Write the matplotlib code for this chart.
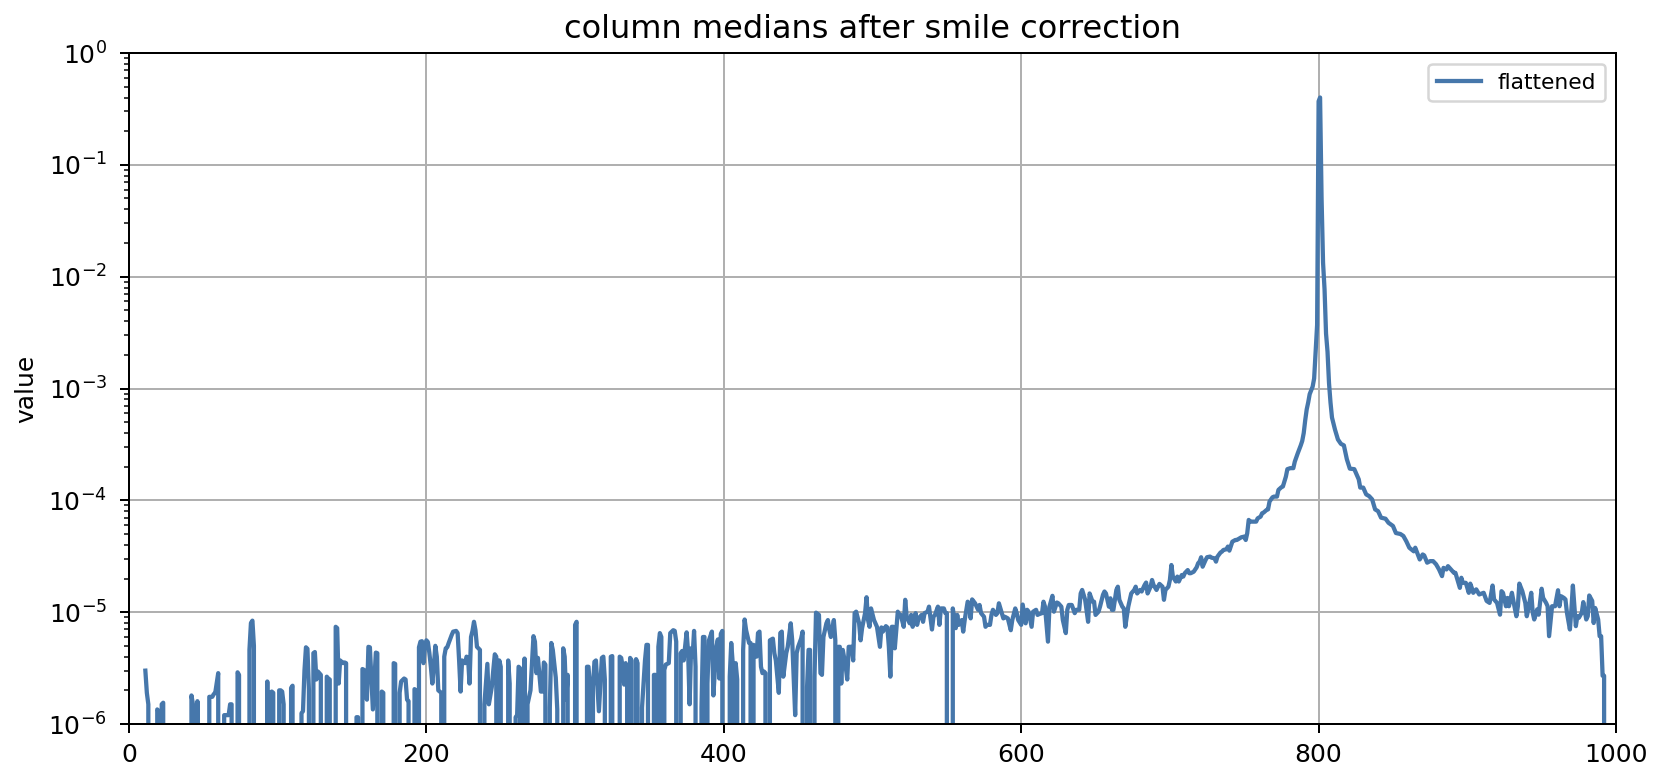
import numpy as np
import matplotlib
matplotlib.use("Agg")
import matplotlib.pyplot as plt

# Medianas por columna (0 = por debajo del eje)
cols_ruido = [11, 12, 13, 14, 19, 20, 21, 22, 23, 24, 41, 42, 43, 44, 45, 46, 47,
              53, 54, 56, 57, 58, 60, 61, 63, 64, 66, 67, 68, 69, 70, 72, 73, 74, 75,
              80, 81, 82, 83, 84, 85, 92, 93, 94, 95, 96, 97, 98, 100, 101, 102, 103,
              104, 105, 108, 109, 110, 111, 115, 116, 117, 118, 119, 120, 121, 122,
              124, 125, 126, 127, 129, 131, 133, 134, 135, 136, 138, 139, 140, 141,
              142, 144, 145, 146, 147, 152, 153, 154, 155, 157, 158, 160, 161, 162,
              164, 166, 167, 169, 170, 171, 172, 177, 178, 179, 180, 181, 182, 183,
              185, 186, 187, 188, 189, 191, 192, 193, 194, 195, 196, 197, 198, 199,
              200, 201, 202, 203, 204, 205, 206, 207, 208, 209, 210, 211, 212, 213,
              214, 215, 217, 218, 220, 221, 222, 223, 224, 226, 227, 228, 229, 230,
              231, 232, 233, 234, 235, 236, 238, 239, 241, 242, 244, 245, 246, 247,
              248, 249, 250, 251, 254, 255, 256, 257, 259, 260, 261, 262, 263, 264,
              266, 267, 268, 270, 272, 273, 274, 275, 277, 278, 279, 280, 281, 282,
              283, 284, 285, 287, 288, 289, 291, 292, 293, 294, 295, 296, 299, 300,
              301, 302, 307, 308, 309, 310, 311, 312, 313, 314, 315, 316, 318, 319,
              320, 321, 323, 324, 325, 326, 329, 330, 331, 332, 333, 334, 335, 336,
              337, 338, 339, 341, 342, 343, 345, 347, 348, 349, 350, 352, 353, 354,
              355, 356, 357, 358, 359, 360, 361, 363, 364, 366, 367, 368, 370, 371,
              372, 373, 375, 376, 377, 378, 379, 380, 381, 383, 385, 386, 387, 388,
              389, 390, 392, 393, 394, 395, 396, 397, 398, 399, 400, 403]
med_ruido = [3.0e-6, 1.9e-6, 1.5e-6, 0, 1.35e-6, 1.3e-6, 0, 1.5e-6, 1.55e-6, 0,
             0, 1.8e-6, 1.5e-6, 0, 0, 1.6e-6, 0,
             0, 1.75e-6, 1.75e-6, 1.85e-6, 1.9e-6, 2.85e-6, 0, 0, 1.2e-6, 1.2e-6,
             1.2e-6, 1.5e-6, 1.5e-6, 0, 0, 2.9e-6, 2.75e-6, 0,
             0, 4.6e-6, 8.0e-6, 8.4e-6, 5.0e-6, 0, 0, 2.4e-6, 0, 1.9e-6, 1.95e-6,
             1.9e-6, 0, 0, 2.0e-6, 2.0e-6, 1.95e-6,
             1.5e-6, 0, 0, 2.1e-6, 2.2e-6, 0, 0, 1.25e-6, 1.3e-6, 3.0e-6, 4.85e-6,
             4.7e-6, 2.0e-6, 0,
             4.3e-6, 4.4e-6, 2.5e-6, 2.95e-6, 2.75e-6, 0, 2.65e-6, 2.55e-6, 2.5e-6,
             0, 0, 7.4e-6, 7.2e-6, 2.3e-6,
             3.7e-6, 3.5e-6, 3.55e-6, 3.5e-6, 0, 0, 1.15e-6, 1.15e-6, 0, 3.1e-6,
             3.05e-6, 1.65e-6, 4.9e-6, 4.85e-6,
             1.35e-6, 4.35e-6, 4.3e-6, 0, 1.95e-6, 1.9e-6, 0, 0, 3.5e-6, 3.45e-6,
             0, 0, 1.9e-6, 2.4e-6,
             2.55e-6, 2.5e-6, 1.65e-6, 1.6e-6, 0, 0, 2.05e-6, 2.0e-6, 0, 4.85e-6,
             5.45e-6, 5.5e-6, 3.5e-6, 5.0e-6,
             5.6e-6, 5.4e-6, 4.3e-6, 3.25e-6, 2.3e-6, 3.3e-6, 5.0e-6, 4.0e-6,
             2.0e-6, 1.95e-6, 1.9e-6, 0, 4.0e-6, 4.75e-6,
             4.85e-6, 5.3e-6, 6.25e-6, 6.7e-6, 6.8e-6, 6.5e-6, 3.7e-6, 1.95e-6,
             3.7e-6, 3.5e-6, 4.0e-6, 3.9e-6, 2.3e-6, 6.0e-6,
             6.8e-6, 8.2e-6, 6.9e-6, 4.9e-6, 4.75e-6, 4.6e-6, 0, 1.5e-6, 3.45e-6,
             1.5e-6, 2.15e-6, 3.05e-6, 4.2e-6, 4.0e-6,
             0, 3.7e-6, 3.25e-6, 0, 0, 3.7e-6, 2.3e-6, 0, 0, 1.15e-6, 1.2e-6,
             3.25e-6, 3.15e-6, 0,
             3.85e-6, 0, 1.5e-6, 2.0e-6, 6.1e-6, 5.45e-6, 2.85e-6, 3.9e-6, 1.95e-6,
             1.95e-6, 3.55e-6, 3.4e-6, 0, 0,
             1.4e-6, 5.3e-6, 4.6e-6, 2.6e-6, 1.35e-6, 0, 0, 4.75e-6, 4.0e-6,
             1.65e-6, 2.75e-6, 0, 0, 7.7e-6,
             8.2e-6, 0, 0, 3.25e-6, 3.25e-6, 2.15e-6, 0, 2.15e-6, 3.6e-6, 3.7e-6,
             2.15e-6, 1.3e-6, 3.9e-6, 4.0e-6,
             2.5e-6, 0, 0, 4.0e-6, 4.05e-6, 0, 0, 4.0e-6, 3.9e-6, 3.25e-6, 2.25e-6,
             3.5e-6, 3.05e-6, 0,
             3.9e-6, 3.7e-6, 0, 3.8e-6, 3.5e-6, 0, 1.4e-6, 3.7e-6, 5.1e-6, 5.1e-6,
             0, 0, 2.75e-6, 2.75e-6,
             0, 4.9e-6, 6.5e-6, 6.0e-6, 0, 3.05e-6, 3.4e-6, 3.5e-6, 6.5e-6, 6.9e-6,
             6.8e-6, 5.45e-6, 0, 4.3e-6,
             4.5e-6, 3.7e-6, 6.6e-6, 4.4e-6, 1.5e-6, 4.75e-6, 4.0e-6, 6.8e-6,
             3.25e-6, 0, 1.4e-6, 6.0e-6, 6.0e-6, 0,
             2.3e-6, 5.6e-6, 6.7e-6, 1.8e-6, 3.05e-6, 4.9e-6, 5.7e-6, 2.55e-6,
             6.4e-6, 6.8e-6, 0, 0]

cols_medio = [404, 405, 406, 407, 408, 409, 410, 412, 413, 414, 415, 417, 418, 419,
              420, 422, 423, 424, 425, 426, 427, 428, 430, 431, 433, 434, 435, 437,
              438, 439, 440, 442, 443, 445, 446, 448, 449, 450, 452, 453, 454, 456,
              457, 458, 459, 461, 462, 464, 465, 466, 467, 469, 470, 471, 472, 474,
              475, 476, 477, 478, 479, 480, 482, 483, 484, 486, 487, 488, 489, 491,
              492, 493, 495, 496, 497, 498, 499, 501, 502, 503, 505, 506, 507, 509,
              510, 511, 512, 513, 514, 515, 517, 518, 519, 521, 522, 523, 525, 526,
              527, 529, 530, 531, 533, 534, 535, 537, 538, 540, 541, 542, 544, 545,
              546, 548, 549, 550, 552, 553, 554, 556, 557, 558, 560, 561, 562, 564,
              565, 566, 567, 569, 571, 572, 573, 575, 576, 577, 579, 580, 581, 583,
              584, 585, 587, 588, 589, 591, 593, 594, 596, 597, 598, 600, 601, 603,
              604, 605, 607, 608, 610, 611, 612, 614, 615, 616, 618, 619, 621, 622,
              624, 625, 627, 628, 630, 631, 632, 634, 636, 637, 639, 640, 641, 643,
              645, 646, 648, 649, 650, 652, 653, 655, 656, 657, 659, 660, 661, 662,
              664, 665, 666, 668, 669, 670, 672, 673, 674, 676, 677, 678, 680, 681,
              683, 684, 685, 687, 688, 689, 691, 692, 693, 695, 696, 697, 699, 700]
med_medio = [2.65e-6, 5.3e-6, 3.5e-6, 0, 3.5e-6, 2.5e-6, 0, 0, 4.6e-6, 8.6e-6,
             6.9e-6, 5.3e-6, 5.3e-6, 0,
             5.1e-6, 4.0e-6, 6.5e-6, 6.7e-6, 3.25e-6, 2.85e-6, 2.95e-6, 2.85e-6, 0,
             5.6e-6, 5.8e-6, 4.3e-6, 3.7e-6, 1.9e-6,
             6.5e-6, 6.7e-6, 2.65e-6, 4.3e-6, 4.9e-6, 7.95e-6, 5.6e-6, 1.2e-6,
             4.3e-6, 4.9e-6, 5.8e-6, 6.7e-6, 0, 2.15e-6,
             4.6e-6, 4.6e-6, 0, 2.65e-6, 9.9e-6, 9.45e-6, 2.85e-6, 2.75e-6, 6.0e-6,
             7.95e-6, 8.5e-6, 6.9e-6, 6.0e-6, 8.5e-6,
             5.6e-6, 0, 4.9e-6, 4.9e-6, 2.3e-6, 4.6e-6, 3.25e-6, 2.5e-6, 4.9e-6,
             4.9e-6, 3.7e-6, 9.8e-6, 1.01e-5, 7.95e-6,
             5.6e-6, 7.2e-6, 9.8e-6, 1.36e-5, 8.5e-6, 7.4e-6, 1.08e-5, 8.5e-6,
             7.95e-6, 7.4e-6, 4.9e-6, 7.3e-6, 6.7e-6, 7.5e-6,
             7.3e-6, 4.9e-6, 2.65e-6, 7.4e-6, 7.4e-6, 4.75e-6, 1.01e-5, 9.45e-6,
             9.45e-6, 7.4e-6, 1.29e-5, 9.1e-6, 7.95e-6, 9.45e-6,
             7.4e-6, 9.8e-6, 7.7e-6, 8.8e-6, 9.45e-6, 8.2e-6, 9.8e-6, 1.01e-5,
             1.12e-5, 7.0e-6, 9.1e-6, 9.45e-6, 1.12e-5, 7.7e-6,
             1.08e-5, 1.08e-5, 9.8e-6, 9.8e-6, 0, 0, 1.08e-5, 7.2e-6, 9.45e-6,
             7.7e-6, 8.5e-6, 6.7e-6, 8.5e-6, 1.24e-5,
             1.2e-5, 8.8e-6, 1.3e-5, 1.2e-5, 1.05e-5, 1.16e-5, 9.8e-6, 9.1e-6,
             7.4e-6, 7.7e-6, 7.7e-6, 9.45e-6, 1.05e-5, 9.45e-6,
             9.8e-6, 1.2e-5, 9.8e-6, 8.8e-6, 9.1e-6, 8.8e-6, 6.9e-6, 8.5e-6,
             1.08e-5, 9.8e-6, 8.5e-6, 7.7e-6, 1.17e-5, 7.95e-6,
             1.05e-5, 1.01e-5, 7.4e-6, 1.01e-5, 1.05e-5, 9.45e-6, 9.6e-6, 9.8e-6,
             1.24e-5, 1.12e-5, 5.45e-6, 1.12e-5, 1.40e-5, 1.01e-5,
             1.22e-5, 1.2e-5, 1.12e-5, 8.5e-6, 6.5e-6, 1.05e-5, 1.16e-5, 1.16e-5,
             9.8e-6, 1.05e-5, 1.05e-5, 1.47e-5, 1.58e-5, 1.29e-5,
             8.2e-6, 1.47e-5, 1.24e-5, 1.24e-5, 9.45e-6, 1.01e-5, 1.12e-5, 1.43e-5,
             1.53e-5, 1.47e-5, 1.12e-5, 1.33e-5, 1.05e-5, 1.05e-5,
             1.58e-5, 1.69e-5, 1.29e-5, 1.12e-5, 1.08e-5, 7.4e-6, 1.12e-5, 1.29e-5,
             1.47e-5, 1.58e-5, 1.69e-5, 1.47e-5, 1.58e-5, 1.53e-5,
             1.75e-5, 1.84e-5, 1.47e-5, 1.69e-5, 1.94e-5, 1.75e-5, 1.58e-5, 1.69e-5,
             1.79e-5, 1.69e-5, 1.29e-5, 1.58e-5, 1.69e-5, 1.94e-5]

cols_pico = [701, 702, 704, 705, 706, 708, 709, 710, 712, 713, 714, 716, 718, 719,
             720, 721, 722, 724, 725, 727, 728, 730, 731, 732, 734, 735, 736, 738,
             739, 740, 742, 744, 745, 747, 748, 750, 751, 752, 753, 754, 756, 758,
             759, 761, 762, 763, 765, 766, 767, 769, 770, 772, 773, 775, 776, 778,
             779, 781, 783, 784, 786, 788, 789, 790, 791, 792, 793, 794, 796, 797,
             798, 799, 800, 801, 802, 803, 804, 805, 806, 807, 808, 809, 811, 813,
             815, 817, 819, 821, 824, 827, 828]
med_pico = [2.64e-5, 2.08e-5, 1.88e-5, 2.08e-5, 1.88e-5, 2.15e-5, 2.08e-5, 2.23e-5,
            2.38e-5, 2.23e-5, 2.23e-5, 2.3e-5, 2.52e-5, 2.74e-5,
            2.83e-5, 3.1e-5, 2.55e-5, 2.93e-5, 3.1e-5, 3.14e-5, 3.07e-5, 3.03e-5,
            2.83e-5, 3.14e-5, 3.41e-5, 3.48e-5, 3.6e-5, 3.65e-5,
            3.86e-5, 3.55e-5, 4.27e-5, 4.42e-5, 4.42e-5, 4.58e-5, 4.67e-5, 4.74e-5,
            4.42e-5, 5.08e-5, 6.68e-5, 6.45e-5, 6.45e-5, 6.45e-5,
            6.9e-5, 7.15e-5, 7.66e-5, 7.77e-5, 8.2e-5, 8.3e-5, 9.75e-5, 1.065e-4,
            1.08e-4, 1.08e-4, 1.24e-4, 1.31e-4, 1.33e-4, 1.63e-4,
            1.90e-4, 1.94e-4, 1.94e-4, 2.22e-4, 2.64e-4, 3.1e-4, 3.4e-4, 4.0e-4,
            5.2e-4, 6.5e-4, 7.5e-4, 8.9e-4, 1.04e-3, 1.23e-3,
            2.13e-3, 3.7e-3, 0.37, 0.40, 0.05, 1.33e-2, 7.7e-3, 3.1e-3, 2.13e-3,
            1.12e-3, 7.5e-4, 5.5e-4, 4.3e-4, 3.5e-4,
            3.2e-4, 3.1e-4, 2.33e-4, 1.92e-4, 1.9e-4, 1.54e-4, 1.3e-4]

cols_cola = [830, 832, 834, 836, 838, 840, 842, 845, 847, 850, 852, 855, 857, 859,
             861, 864, 865, 868, 870, 871, 873, 875, 877, 879, 881, 883, 884, 886,
             887, 889, 891, 892, 895, 896, 897, 899, 901, 902, 903, 904, 906, 908,
             911, 913, 915, 917, 918, 920, 922, 923, 924, 926, 927, 928, 930, 931,
             933, 934, 935, 937, 939, 940, 941, 943, 944, 945, 947, 948, 950, 951,
             953, 954, 955, 957, 959, 961, 962, 963, 965, 966, 967, 969, 970, 971,
             973, 974, 975, 977, 978, 980, 981, 982, 984, 985, 986, 988, 989, 990,
             991, 992, 993]
med_cola = [1.3e-4, 1.13e-4, 1.09e-4, 1.02e-4, 8.3e-5, 8.0e-5, 7.0e-5, 6.85e-5,
            6.3e-5, 5.9e-5, 5.1e-5, 5.0e-5, 4.8e-5, 4.3e-5,
            3.77e-5, 3.5e-5, 3.77e-5, 2.96e-5, 3.28e-5, 3.22e-5, 2.77e-5, 2.86e-5,
            2.86e-5, 2.68e-5, 2.41e-5, 2.1e-5, 2.49e-5, 2.41e-5,
            2.58e-5, 2.41e-5, 2.25e-5, 2.25e-5, 1.65e-5, 2.03e-5, 1.83e-5, 1.83e-5,
            1.49e-5, 1.8e-5, 1.65e-5, 1.49e-5, 1.6e-5, 1.44e-5,
            1.49e-5, 1.26e-5, 1.21e-5, 1.73e-5, 1.3e-5, 1.21e-5, 9.5e-6, 1.54e-5,
            1.49e-5, 1.13e-5, 1.34e-5, 1.13e-5, 1.49e-5, 1.26e-5,
            9.2e-6, 1.13e-5, 1.8e-5, 1.54e-5, 1.21e-5, 9.2e-6, 1.06e-5, 1.49e-5,
            9.9e-6, 8.6e-6, 1.06e-5, 9.5e-6, 1.62e-5, 1.34e-5,
            1.21e-5, 1.13e-5, 6.1e-6, 1.13e-5, 1.13e-5, 1.57e-5, 1.13e-5, 1.39e-5,
            1.34e-5, 1.3e-5, 9.9e-6, 7.0e-6, 1.06e-5, 1.73e-5,
            7.5e-6, 9.2e-6, 8.9e-6, 9.9e-6, 1.23e-5, 8.6e-6, 9.2e-6, 1.41e-5,
            1.26e-5, 8.0e-6, 1.09e-5, 8.6e-6, 6.1e-6, 6.1e-6,
            2.7e-6, 2.7e-6, 0]

# Juntar los tramos
columnas = np.array(cols_ruido + cols_medio + cols_pico + cols_cola)
medianas = np.array(med_ruido + med_medio + med_pico + med_cola)

# Figura (180 dpi para que letras y lineas tengan el tamano del original)
dpi = 180
fig = plt.figure(figsize=(1655 / dpi, 770 / dpi), dpi=dpi)
ax = fig.add_axes([129 / 1655, 46 / 770, 1487 / 1655, 671 / 770])

ax.plot(columnas, medianas, color='#4677ab', linewidth=1.7, label='flattened')
ax.set_yscale('log', nonpositive='clip')
ax.set_ylim(1e-6, 1e0)
ax.set_xlim(0, 1000)
ax.grid(True, which='major', color='#b0b0b0', linewidth=0.8)

ax.set_title('column medians after smile correction', fontsize=12.8)
ax.set_ylabel('value', fontsize=10)
ax.tick_params(axis='x', which='major', labelsize=10, pad=4.3)
ax.tick_params(axis='y', which='major', labelsize=10, pad=5.3)
ax.legend(loc='upper right', fontsize=8.7)

fig.savefig('out.png', dpi=dpi)
